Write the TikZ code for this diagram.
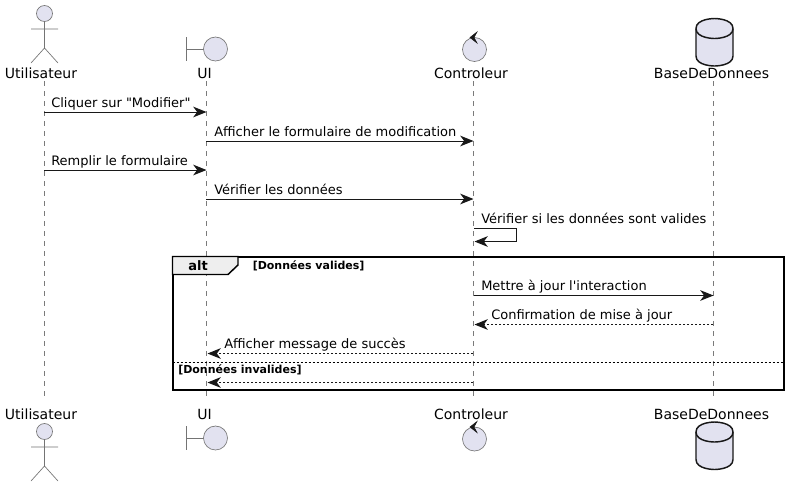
\documentclass[tikz,border=0pt]{standalone}
\usepackage{fontspec}
\setmainfont{DejaVu Sans}[Ligatures=TeXOff]
\usetikzlibrary{arrows.meta}
\definecolor{pfill}{HTML}{E2E2F0}
\definecolor{pline}{HTML}{181818}
\definecolor{lline}{HTML}{7A7A7A}
\definecolor{tabfill}{HTML}{EEEEEE}
\tikzset{
  x=0.75pt,y=-0.75pt,
  lifeline/.style={draw=lline,line width=0.5pt,dash pattern=on 3.75pt off 3.75pt},
  headtip/.style={-{Stealth[length=10pt,width=8pt,inset=3pt]}},
  msg/.style={draw=pline,line width=0.75pt,headtip},
  reply/.style={draw=pline,line width=0.75pt,dash pattern=on 1.5pt off 1.5pt,headtip},
  msgtext/.style={anchor=base west,inner sep=0pt,font=\fontsize{9.75pt}{11pt}\selectfont,text=black},
  parttext/.style={anchor=base,inner sep=0pt,font=\fontsize{10.5pt}{12pt}\selectfont,text=black},
  guardtext/.style={anchor=base west,inner sep=0pt,font=\fontsize{8.25pt}{10pt}\selectfont\bfseries,text=black},
  altframe/.style={draw=black,line width=1.5pt},
  pbody/.style={draw=pline!60!white,line width=0.5pt,fill=pfill},
  dbbody/.style={draw=pline,line width=1.1pt,fill=pfill}
}
\newcommand{\actorfig}[1]{%
  \begin{scope}[yshift=#1*-0.75pt]
    \draw[pbody] (44.5,13.5) circle[radius=8];
    \draw[pline!60!white,line width=0.5pt] (44.5,21.5) -- (44.5,48) (31,29) -- (58,29) (31,63) -- (44.5,48) -- (58,63);
  \end{scope}}
\newcommand{\boundfig}[1]{%
  \begin{scope}[yshift=#1*-0.75pt]
    \draw[pline!60!white,line width=0.5pt] (186.5,37) -- (186.5,61) (186.5,49) -- (203.5,49);
    \draw[pbody] (215.5,49) circle[radius=12];
  \end{scope}}
\newcommand{\ctrlfig}[1]{%
  \begin{scope}[yshift=#1*-0.75pt]
    \draw[pbody] (474.5,49.5) circle[radius=12];
    \filldraw[pline,line width=0.4pt,line join=miter] (470,37.5) -- (477,32) -- (474,37.5) -- (477,43) -- cycle;
  \end{scope}}
\newcommand{\dbfig}[1]{%
  \begin{scope}[yshift=#1*-0.75pt]
    \draw[dbbody] (696,28.5) .. controls (696,18.5) and (714.5,18.5) .. (714.5,18.5)
      .. controls (714.5,18.5) and (733,18.5) .. (733,28.5)
      -- (733,56) .. controls (733,66) and (714.5,66) .. (714.5,66)
      .. controls (714.5,66) and (696,66) .. (696,56) -- cycle;
    \draw[dbbody,fill=none] (696,28.5) .. controls (696,38.5) and (714.5,38.5) .. (714.5,38.5)
      .. controls (714.5,38.5) and (733,38.5) .. (733,28.5);
  \end{scope}}
\begin{document}
\begin{tikzpicture}
\useasboundingbox (0,0) rectangle (790,487);
\fill[white] (0,0) rectangle (790,487);
% anchors
\coordinate (uT) at (44,81);  \coordinate (uB) at (44,399);
\coordinate (iT) at (206,81); \coordinate (iB) at (206,399);
\coordinate (cT) at (473,81); \coordinate (cB) at (473,399);
\coordinate (dT) at (713,81); \coordinate (dB) at (713,399);
\draw[lifeline] (uT) -- (uB);
\draw[lifeline] (iT) -- (iB);
\draw[lifeline] (cT) -- (cB);
\draw[lifeline] (dT) -- (dB);
% participants
\actorfig{0}\actorfig{418}
\boundfig{0}\boundfig{389}
\ctrlfig{0}\ctrlfig{389.5}
\dbfig{0}\dbfig{403.5}
\node[parttext] (u1) at (41,78) {Utilisateur};
\node[parttext] (i1) at (204.5,78) {UI};
\node[parttext] (c1) at (471,78) {Controleur};
\node[parttext] (d1) at (711.5,78) {BaseDeDonnees};
\node[parttext] (u2) at (41,419) {Utilisateur};
\node[parttext] (i2) at (204.5,419) {UI};
\node[parttext] (c2) at (471,419) {Controleur};
\node[parttext] (d2) at (711.5,419) {BaseDeDonnees};
% alt frame
\draw[altframe] (172.5,256.5) rectangle (784,390);
\draw[draw=black,line width=1.1pt,fill=tabfill] (172.5,256.5) -- (238,256.5) -- (238,265) -- (228,274.5) -- (172.5,274.5) -- cycle;
\draw[draw=black,line width=0.75pt,dash pattern=on 1.5pt off 1.5pt] (172.5,362) -- (784,362);
\node[anchor=base west,inner sep=0pt,font=\fontsize{9.75pt}{11pt}\selectfont\bfseries] (altl) at (188,270) {alt};
\node[guardtext] (g1) at (252.5,269) {[Données valides]};
\node[guardtext] (g2) at (178,373) {[Données invalides]};
% message end points
\coordinate (m1a) at (44,112);  \coordinate (m1b) at (206.5,112);
\coordinate (m2a) at (206,141); \coordinate (m2b) at (473.5,141);
\coordinate (m3a) at (44,170);  \coordinate (m3b) at (206.5,170);
\coordinate (m4a) at (206,199); \coordinate (m4b) at (473.5,199);
\coordinate (s1) at (474,228); \coordinate (s2) at (516.5,228); \coordinate (s3) at (516.5,241.5); \coordinate (s4) at (474.5,241.5);
\coordinate (m5a) at (474,295.5); \coordinate (m5b) at (713.5,295.5);
\coordinate (m6a) at (713,324.5); \coordinate (m6b) at (474.5,324.5);
\coordinate (m7a) at (473,353.5); \coordinate (m7b) at (207.5,353.5);
\coordinate (m8a) at (473,382.5); \coordinate (m8b) at (207.5,382.5);
\draw[msg] (m1a) -- (m1b);
\draw[msg] (m2a) -- (m2b);
\draw[msg] (m3a) -- (m3b);
\draw[msg] (m4a) -- (m4b);
\draw[msg] (s1) -- (s2) -- (s3) -- (s4);
\draw[msg] (m5a) -- (m5b);
\draw[reply] (m6a) -- (m6b);
\draw[reply] (m7a) -- (m7b);
\draw[reply] (m8a) -- (m8b);
\node[msgtext] (t1) at (51,107) {Cliquer sur "Modifier"};
\node[msgtext] (t2) at (214,136) {Afficher le formulaire de modification};
\node[msgtext] (t3) at (51,165) {Remplir le formulaire};
\node[msgtext] (t4) at (214,194) {Vérifier les données};
\node[msgtext] (t5) at (481,223) {Vérifier si les données sont valides};
\node[msgtext] (t6) at (481,290) {Mettre à jour l'interaction};
\node[msgtext] (t7) at (491,319) {Confirmation de mise à jour};
\node[msgtext] (t8) at (224,348) {Afficher message de succès};
\end{tikzpicture}
\end{document}
